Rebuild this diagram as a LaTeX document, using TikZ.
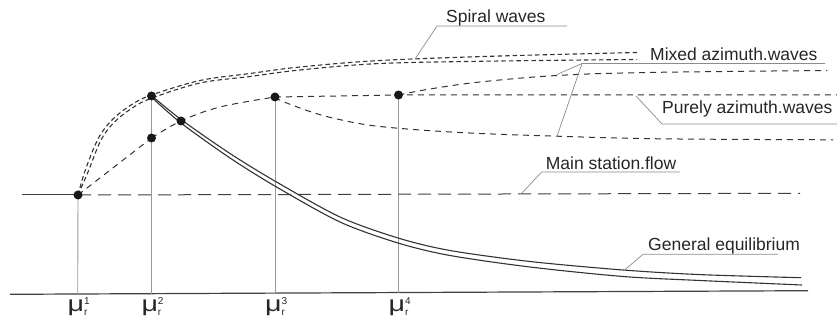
\documentclass[tikz,border=0pt]{standalone}
\usepackage{fontspec}
\setmainfont{Liberation Sans}
\newcommand{\mulabel}[1]{\scalebox{1.3}[1]{\fontsize{22}{24}\selectfont μ}\rlap{\raisebox{6.5pt}{\fontsize{10}{10}\selectfont #1}}\raisebox{-4pt}{\fontsize{10}{10}\selectfont r}}
\begin{document}
\begin{tikzpicture}[x=1pt,y=-1pt,
  dot/.style={circle,fill=black!90,inner sep=0pt,minimum size=9pt},
  lbl/.style={anchor=base west,inner sep=0pt,font=\fontsize{17.5}{20}\selectfont,text=black!85},
  mulbl/.style={anchor=base west,inner sep=0pt,text=black!85},
  lead/.style={draw=black!45,line width=0.7pt},
  vline/.style={draw=black!40,line width=0.9pt},
  axisline/.style={draw=black!75,line width=1.2pt},
  spiral/.style={draw=black!80,line width=1.1pt,dash pattern=on 4.5pt off 3pt},
  wave/.style={draw=black!80,line width=1pt,dash pattern=on 6pt off 5pt},
  flow/.style={draw=black!75,line width=1pt,dash pattern=on 13pt off 7pt},
  equil/.style={draw=black!80,line width=1.1pt}]
\useasboundingbox (0,0) rectangle (837,320);

% points
\coordinate (P1) at (78,195);
\coordinate (P2) at (151.5,96);
\coordinate (Q2) at (151.5,138);
\coordinate (P3) at (181,121);
\coordinate (P4) at (275,97);
\coordinate (P5) at (398.5,95);

% axis and feet
\coordinate (ax0) at (10,294.3);
\coordinate (ax1) at (808,290.7);
\coordinate (f1) at (77.7,294);
\coordinate (f2) at (151.5,293.7);
\coordinate (f3) at (275,293.3);
\coordinate (f4) at (398.5,292.5);
\draw[axisline] (ax0) -- (ax1);
\draw[vline] (P1) -- (f1);
\draw[vline] (P2) -- (f2);
\draw[vline] (P4) -- (f3);
\draw[vline] (P5) -- (f4);

% main stationary flow
\coordinate (ms0) at (22,195);
\coordinate (ms1) at (800,193.3);
\draw[draw=black!75,line width=1pt] (ms0) -- (P1);
\draw[flow] (P1) -- (ms1);

% spiral waves (double dashed)
\draw[spiral] plot[smooth,tension=0.55] coordinates {(78,195) (85,171) (98,139) (112,120) (131,105) (151.5,95) (200,80.5) (250,73.5) (300,67) (380,60.5) (500,56) (637,52.5)};
\draw[spiral] plot[smooth,tension=0.55] coordinates {(78,195) (88,172) (101,140) (114.5,122) (133,107.5) (152,98) (200,83) (250,76.5) (300,70) (380,63.5) (500,61) (637,59.5)};

% lower branch and purely azimuthal waves
\draw[wave] (P1) -- (Q2);
\draw[wave] plot[smooth,tension=0.6] coordinates {(151.5,138) (181,121) (220,107) (275,97)};
\coordinate (pa1) at (837,95);
\draw[wave] (P4) -- (P5) -- (pa1);

% mixed azimuthal waves
\draw[wave] plot[smooth,tension=0.6] coordinates {(398.5,95) (430,89) (480,82) (557,75.5) (647,72.5) (827,70.5)};
\draw[wave] plot[smooth,tension=0.6] coordinates {(275,97) (283,101.5) (310,111.5) (337,119) (380,126.5) (460,132.5) (557,136.2) (660,138.8) (833,139.8)};

% general equilibrium (double solid)
\draw[equil] plot[smooth,tension=0.5] coordinates {(151.5,95.5) (181,119.5) (230,153.5) (276,181.7) (340,217) (398,238) (450,250.5) (530,261.5) (623,270) (700,274.6) (801,277.7)};
\draw[equil] plot[smooth,tension=0.5] coordinates {(153,98.5) (181,123) (230,158) (276,186.7) (340,222) (398,243) (450,255.5) (530,267) (623,276.5) (700,280.5) (802,285)};

% dots
\node[dot] (d1) at (P1) {};
\node[dot] (d2) at (P2) {};
\node[dot] (d2b) at (Q2) {};
\node[dot] (d3) at (P3) {};
\node[dot] (d4) at (P4) {};
\node[dot] (d5) at (P5) {};

% labels and leaders
\node[lbl] (tsp) at (446,22.5) {Spiral waves};
\coordinate (sp0) at (415,59); \coordinate (sp1) at (437,26); \coordinate (sp2) at (567,26);
\draw[lead] (sp0) -- (sp1) -- (sp2);

\node[lbl] (tmx) at (650,61) {Mixed azimuth.waves};
\coordinate (mx0) at (557,74.5); \coordinate (mx0b) at (557,136.2);
\coordinate (mx1) at (582,63.5); \coordinate (mx2) at (825,63.5);
\draw[lead] (mx0) -- (mx1) -- (mx2);
\draw[lead] (mx0b) -- (mx1);

\node[lbl] (tpa) at (662,113.3) {Purely azimuth.waves};
\coordinate (pu0) at (636,96); \coordinate (pu1) at (662,124); \coordinate (pu2) at (837,124);
\draw[lead] (pu0) -- (pu1) -- (pu2);

\node[lbl] (tms) at (545.7,170) {Main station.flow};
\coordinate (mf0) at (521.7,193.3); \coordinate (mf1) at (541.7,172); \coordinate (mf2) at (680,172);
\draw[lead] (mf0) -- (mf1) -- (mf2);

\node[lbl] (tge) at (648,251) {General equilibrium};
\coordinate (ge0) at (624,270.5); \coordinate (ge1) at (643,254.3); \coordinate (ge2) at (778,254.3);
\draw[lead] (ge0) -- (ge1) -- (ge2);

% mu labels
\node[mulbl] (m1) at (67.5,311) {\mulabel{1}};
\node[mulbl] (m2) at (141.3,311) {\mulabel{2}};
\node[mulbl] (m3) at (265,311) {\mulabel{3}};
\node[mulbl] (m4) at (388.5,311) {\mulabel{4}};
\end{tikzpicture}
\end{document}
